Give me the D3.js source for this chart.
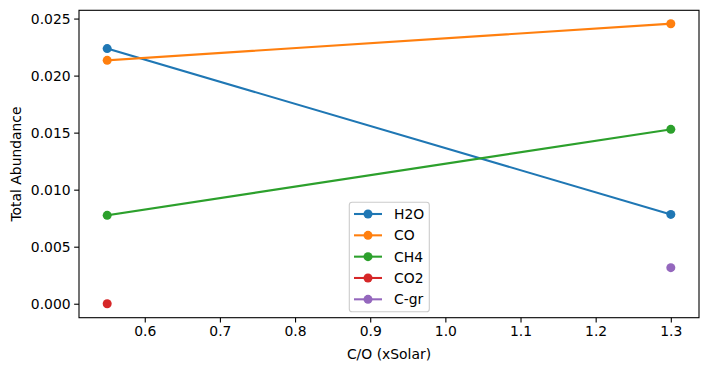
<!DOCTYPE html>
<html><head><meta charset="utf-8">
<script src="https://cdn.jsdelivr.net/npm/d3@7"></script>
<style>body{margin:0;background:#fff}svg{display:block}text{font-family:"DejaVu Sans",sans-serif;fill:#000}</style>
</head><body>
<svg id="c" width="708" height="371"></svg>
<script>
const xValues = [0.55, 1.3];
const seriesNames = ["H2O", "CO", "CH4", "CO2", "C-gr"];
const h2o = [0.02237, 0.00783];
const co = [0.02134, 0.02455];
const ch4 = [0.00775, 0.01529];
const co2 = [0.0, NaN];
const cgr = [NaN, 0.00316];
const colors = ["#1f77b4", "#ff7f0e", "#2ca02c", "#d62728", "#9467bd"];
const xTicks = [0.6, 0.7, 0.8, 0.9, 1.0, 1.1, 1.2, 1.3];
const yTicks = [0.000, 0.005, 0.010, 0.015, 0.020, 0.025];

const series = [h2o, co, ch4, co2, cgr];
const svg = d3.select("#c");
const L = 79, R = 699, T = 10.3, B = 317.7;
const x = d3.scaleLinear().domain([0.5125, 1.3375]).range([L, R]);
const y = d3.scaleLinear().domain([-0.001225, 0.025725]).range([B, T]);
const fs = 13.9;
const mr = 4.5;

const xAxis = svg.append("g").attr("transform", `translate(0,${B})`)
  .call(d3.axisBottom(x).tickValues(xTicks).tickFormat(d3.format(".1f")).tickSize(4.86).tickPadding(3.5));
const yAxis = svg.append("g").attr("transform", `translate(${L},0)`)
  .call(d3.axisLeft(y).tickValues(yTicks).tickFormat(d3.format(".3f")).tickSize(4.86).tickPadding(3.5));
[xAxis, yAxis].forEach(a => {
  a.select(".domain").remove();
  a.selectAll(".tick line").attr("stroke", "#000").attr("stroke-width", 1.1);
  a.selectAll(".tick text").attr("font-size", fs).attr("font-family", "DejaVu Sans").attr("fill", "#000");
});

const plot = svg.append("g");
const line = d3.line().defined(d => !isNaN(d[1])).x(d => x(d[0])).y(d => y(d[1]));
series.forEach((s, i) => {
  const pts = xValues.map((xv, j) => [xv, s[j]]);
  plot.append("path").attr("d", line(pts)).attr("fill", "none")
    .attr("stroke", colors[i]).attr("stroke-width", 2.08).attr("stroke-linecap", "square");
  plot.selectAll(null).data(pts.filter(d => !isNaN(d[1]))).enter().append("circle")
    .attr("cx", d => x(d[0])).attr("cy", d => y(d[1])).attr("r", mr).attr("fill", colors[i]);
});

svg.append("rect").attr("x", L).attr("y", T).attr("width", R - L).attr("height", B - T)
  .attr("fill", "none").attr("stroke", "#000").attr("stroke-width", 1.1);

svg.append("text").attr("x", (L + R) / 2).attr("y", 359).attr("text-anchor", "middle")
  .attr("font-size", fs).text("C/O (xSolar)");
svg.append("text").attr("transform", `translate(21,${(T + B) / 2}) rotate(-90)`).attr("text-anchor", "middle")
  .attr("font-size", fs).text("Total Abundance");

// legend
const lg = svg.append("g");
lg.append("rect").attr("x", 349.3).attr("y", 202.3).attr("width", 80).attr("height", 109.4)
  .attr("rx", 2.8).attr("fill", "#fff").attr("fill-opacity", 0.8).attr("stroke", "#cccccc").attr("stroke-width", 1.1);
seriesNames.forEach((n, i) => {
  const yy = 214 + i * 21.33;
  lg.append("line").attr("x1", 354).attr("x2", 382).attr("y1", yy).attr("y2", yy)
    .attr("stroke", colors[i]).attr("stroke-width", 2.08);
  lg.append("circle").attr("cx", 368).attr("cy", yy).attr("r", mr).attr("fill", colors[i]);
  lg.append("text").attr("x", 394).attr("y", yy + 5).attr("font-size", fs).text(n);
});
</script>
</body></html>
